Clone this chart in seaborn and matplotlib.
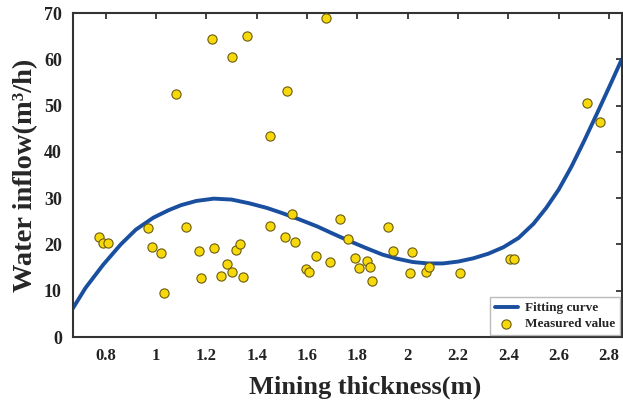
import numpy as np
import pandas as pd
import matplotlib
matplotlib.use("Agg")
import matplotlib.pyplot as plt
import seaborn as sns

# measured points (mining thickness m, water inflow m3/h)
thick = [0.773, 0.790, 0.808, 0.969, 0.986, 1.020, 1.030, 1.078, 1.118, 1.170,
         1.177, 1.224, 1.232, 1.259, 1.284, 1.300, 1.300, 1.319, 1.332, 1.345,
         1.360, 1.451, 1.453, 1.514, 1.521, 1.539, 1.554, 1.596, 1.606, 1.636,
         1.674, 1.693, 1.729, 1.762, 1.791, 1.807, 1.838, 1.851, 1.860, 1.921,
         1.942, 2.010, 2.018, 2.071, 2.084, 2.207, 2.405, 2.421, 2.710, 2.764]
inflow = [21.7, 20.4, 20.4, 23.6, 19.4, 18.2, 9.6, 52.5, 23.8, 18.5,
          12.7, 64.4, 19.3, 13.2, 15.8, 60.4, 14.0, 18.7, 20.2, 13.0,
          65.1, 23.9, 43.5, 21.7, 53.2, 26.5, 20.6, 14.7, 14.1, 17.4,
          68.9, 16.1, 25.6, 21.2, 17.1, 14.9, 16.4, 15.1, 12.1, 23.8,
          18.5, 13.9, 18.4, 14.0, 15.1, 13.8, 16.8, 16.8, 50.5, 46.5]

# fitting curve
curve_x = [0.67, 0.72, 0.79, 0.86, 0.92, 0.99, 1.05, 1.10, 1.16, 1.23,
           1.30, 1.37, 1.44, 1.50, 1.57, 1.64, 1.70, 1.77, 1.84, 1.90,
           1.96, 2.02, 2.08, 2.14, 2.20, 2.26, 2.32, 2.38, 2.44, 2.50,
           2.55, 2.60, 2.65, 2.70, 2.75, 2.80, 2.85]
curve_y = [6.2, 10.6, 15.6, 20.0, 23.2, 25.8, 27.4, 28.5, 29.4, 29.9,
           29.7, 28.9, 27.9, 26.8, 25.4, 23.9, 22.4, 20.7, 19.1, 17.8,
           16.9, 16.2, 15.9, 15.9, 16.3, 17.0, 18.0, 19.4, 21.4, 24.5,
           27.9, 31.9, 36.8, 42.3, 48.1, 54.0, 60.0]

xticks = [0.8, 1, 1.2, 1.4, 1.6, 1.8, 2, 2.2, 2.4, 2.6, 2.8]
xtick_labels = ["0.8", "1", "1.2", "1.4", "1.6", "1.8", "2", "2.2", "2.4", "2.6", "2.8"]
yticks = [0, 10, 20, 30, 40, 50, 60, 70]

sns.set_theme(style="white")
plt.rcParams["font.family"] = ["Liberation Serif", "DejaVu Serif"]
plt.rcParams["font.weight"] = "bold"

pts = pd.DataFrame({"x": thick, "y": inflow})
fit = pd.DataFrame({"x": curve_x, "y": curve_y})

fig = plt.figure(figsize=(6.23, 4.08), dpi=100)
ax = fig.add_axes([0.117, 0.174, 0.881, 0.794])

sns.lineplot(data=fit, x="x", y="y", ax=ax, color="#1a4f9f", linewidth=2.8,
             label="Fitting curve", sort=True, estimator=None)
ax.lines[0].set_solid_joinstyle("round")
sns.scatterplot(data=pts, x="x", y="y", ax=ax, color="#f7d80a", edgecolor="#6b5c10",
                linewidth=0.8, s=44, label="Measured value", zorder=3)

ax.set_xlim(0.67, 2.85)
ax.set_ylim(0, 70)
ax.set_xticks(xticks)
ax.set_xticklabels(xtick_labels)
ax.set_yticks(yticks)
ax.tick_params(direction="in", top=True, right=True, length=4, width=1.2,
               pad=8, colors="#222222")
ax.tick_params(axis="x", labelsize=12)
ax.tick_params(axis="y", labelsize=13)
for lab in ax.get_xticklabels() + ax.get_yticklabels():
    lab.set_fontweight("bold")
for sp in ax.spines.values():
    sp.set_color("#333333")
    sp.set_linewidth(1.5)

ax.set_xlabel("Mining thickness(m)", fontsize=19, fontweight="bold")
ax.xaxis.set_label_coords(0.532, -0.12)
ax.set_ylabel("Water inflow(m³/h)", fontsize=20.5, fontweight="bold", labelpad=4)

leg = ax.legend(loc="lower right", frameon=True, fancybox=False,
                edgecolor="#aaaaaa", borderaxespad=0.15, handlelength=1.8,
                handletextpad=0.5, borderpad=0.35, labelspacing=0.3,
                prop={"weight": "bold", "size": 9.5})
leg.get_frame().set_linewidth(1.0)

fig.savefig("out.png", dpi=100)
